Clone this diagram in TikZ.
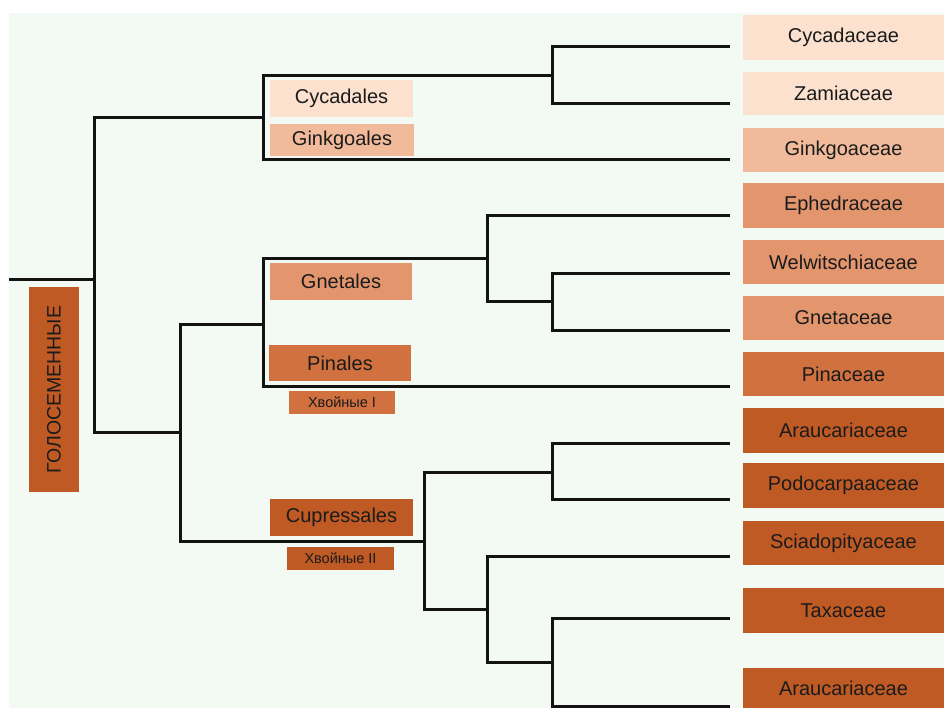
\documentclass[tikz,border=0pt]{standalone}
\usepackage{fontspec}
\setmainfont{Liberation Sans}
\definecolor{bgmint}{HTML}{F2FAF3}
\definecolor{cA}{HTML}{FBE1CE}
\definecolor{cB}{HTML}{F1BB9B}
\definecolor{cC}{HTML}{E3966E}
\definecolor{cD}{HTML}{D0713F}
\definecolor{cE}{HTML}{C05A24}
\definecolor{ink}{HTML}{1B1B1B}
\tikzset{
  fam/.style={rectangle, inner sep=0pt, minimum width=201pt, text=ink, font=\fontsize{20}{24}\selectfont},
  ord/.style={rectangle, inner sep=0pt, text=ink, font=\fontsize{20}{24}\selectfont},
  sub/.style={rectangle, inner sep=0pt, text=ink, font=\fontsize{14.5}{17}\selectfont},
  branch/.style={line width=3pt, draw=black!93, line cap=rect, line join=miter}
}
\begin{document}
\begin{tikzpicture}[x=1pt,y=-1pt]
\useasboundingbox (0,0) rectangle (944,708);
\fill[white] (0,0) rectangle (944,708);
\fill[bgmint] (9,13) rectangle (944,708);

% family boxes
\node[fam, fill=cA, minimum height=45pt] (Cyc) at (843.5,37.5) {Cycadaceae};
\node[fam, fill=cA, minimum height=43pt] (Zam) at (843.5,93.5) {Zamiaceae};
\node[fam, fill=cB, minimum height=44pt] (Gin) at (843.5,150) {Ginkgoaceae};
\node[fam, fill=cC, minimum height=45pt] (Eph) at (843.5,205.5) {Ephedraceae};
\node[fam, fill=cC, minimum height=44pt] (Wel) at (843.5,262) {Welwitschiaceae};
\node[fam, fill=cC, minimum height=44pt] (Gne) at (843.5,318) {Gnetaceae};
\node[fam, fill=cD, minimum height=44pt] (Pin) at (843.5,374) {Pinaceae};
\node[fam, fill=cE, minimum height=45pt] (Ara) at (843.5,430.5) {Araucariaceae};
\node[fam, fill=cE, minimum height=45pt] (Pod) at (843.5,485.5) {Podocarpaaceae};
\node[fam, fill=cE, minimum height=44pt] (Sci) at (843.5,543) {Sciadopityaceae};
\node[fam, fill=cE, minimum height=45pt] (Tax) at (843.5,610.5) {Taxaceae};
\node[fam, fill=cE, minimum height=40pt] (AraB) at (843.5,688) {Araucariaceae};

% order labels
\node[ord, fill=cA, minimum width=143pt, minimum height=37pt] (Cycl) at (341.5,98.5) {Cycadales};
\node[ord, fill=cB, minimum width=144pt, minimum height=32pt] (Ginl) at (342,140) {Ginkgoales};
\node[ord, fill=cC, minimum width=142pt, minimum height=37pt] (Gnel) at (341,281.5) {Gnetales};
\node[ord, fill=cD, minimum width=142pt, minimum height=36pt] (Pinl) at (340,363) {Pinales};
\node[sub, fill=cD, minimum width=106pt, minimum height=23pt] (Xv1) at (342,402.5) {Хвойные I};
\node[ord, fill=cE, minimum width=143pt, minimum height=37pt] (Cupl) at (341.5,517.5) {Cupressales};
\node[sub, fill=cE, minimum width=107pt, minimum height=23pt] (Xv2) at (340.5,558.5) {Хвойные II};
\node[ord, fill=cE, minimum width=205pt, minimum height=50pt, rotate=90, font=\fontsize{19.5}{23}\selectfont] (Gym) at (54,389.5) {ГОЛОСЕМЕННЫЕ};

% tips
\coordinate (tCyc) at (728,47);
\coordinate (tZam) at (728,104);
\coordinate (tGin) at (728,160);
\coordinate (tEph) at (728,216);
\coordinate (tWel) at (728,274);
\coordinate (tGne) at (728,330);
\coordinate (tPin) at (728,386);
\coordinate (tAra) at (728,443);
\coordinate (tPod) at (728,499);
\coordinate (tSci) at (728,556);
\coordinate (tTax) at (728,618);
\coordinate (tAraB) at (728,706);
% junctions
\coordinate (r0) at (10,280);
\coordinate (j1) at (94,280);
\coordinate (j2) at (263,118);
\coordinate (j3) at (552,76);
\coordinate (j4) at (180,432);
\coordinate (j5) at (263,324);
\coordinate (j6) at (487,259);
\coordinate (j7) at (552,302);
\coordinate (j8) at (424,541);
\coordinate (j9) at (552,472);
\coordinate (j10) at (487,609);
\coordinate (j11) at (552,662);

\draw[branch] (r0) -- (j1);
\draw[branch] (j2) -| (j1) |- (j4);
\draw[branch] (j3) -| (j2) |- (tGin);
\draw[branch] (tCyc) -| (j3) |- (tZam);
\draw[branch] (j5) -| (j4) |- (j8);
\draw[branch] (j6) -| (j5) |- (tPin);
\draw[branch] (tEph) -| (j6) |- (j7);
\draw[branch] (tWel) -| (j7) |- (tGne);
\draw[branch] (j9) -| (j8) |- (j10);
\draw[branch] (tAra) -| (j9) |- (tPod);
\draw[branch] (tSci) -| (j10) |- (j11);
\draw[branch] (tTax) -| (j11) |- (tAraB);
\end{tikzpicture}
\end{document}
